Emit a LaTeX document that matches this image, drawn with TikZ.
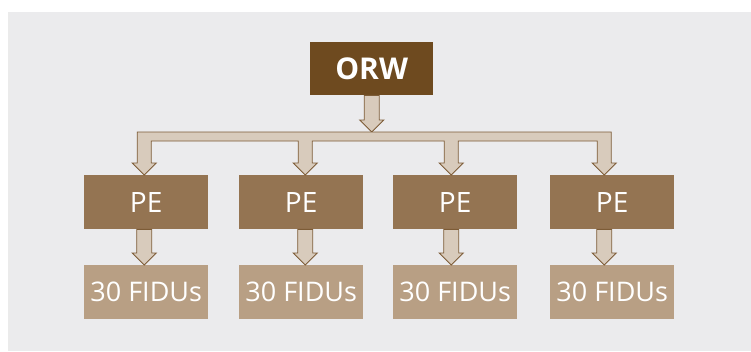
\documentclass[tikz,border=0pt]{standalone}
\usepackage{fontspec}
\setmainfont{Open Sans}
\usetikzlibrary{calc}
\definecolor{bgc}{HTML}{EBEBED}
\definecolor{orwc}{HTML}{6E4A1F}
\definecolor{pec}{HTML}{947452}
\definecolor{fdc}{HTML}{B89F84}
\definecolor{arf}{HTML}{D8CBBC}
\definecolor{arl}{HTML}{7D5C37}
\tikzset{
  box/.style={rectangle, inner sep=0pt, minimum width=124pt, minimum height=54pt, text=white, anchor=north west},
  orwbox/.style={box, fill=orwc, minimum width=123pt, minimum height=53pt, font=\fontsize{30}{30}\selectfont\bfseries},
  pebox/.style={box, fill=pec, font=\fontsize{28}{28}\selectfont},
  fdbox/.style={box, fill=fdc, font=\fontsize{27}{27}\selectfont},
  blockarrow/.style={fill=arf, draw=arl, line width=0.9pt, line join=miter},
  fat/.style={blockarrow, to path={let \p1=(\tikztostart), \p2=(\tikztotarget) in
    (\x1-7.5pt,\y1) -- (\x1-7.5pt,\y2+12pt) -- (\x1-12pt,\y2+12pt) -- (\x2,\y2) -- (\x1+12pt,\y2+12pt) -- (\x1+7.5pt,\y2+12pt) -- (\x1+7.5pt,\y1) -- cycle}}
}
\begin{document}
\begin{tikzpicture}[x=1pt,y=-1pt]
\useasboundingbox (0,0) rectangle (751,351);
\fill[white] (0,0) rectangle (751,351);
\fill[black!8] (8,12) rectangle (751,351);
\fill[bgc] (10,12) rectangle (751,351);

\node[orwbox] (orw) at (310,42) {ORW};

\node[pebox] (pe1) at (84,175) {PE};
\node[pebox] (pe2) at (239,175) {PE};
\node[pebox] (pe3) at (393,175) {PE};
\node[pebox] (pe4) at (550,175) {PE};

\node[fdbox] (fd1) at (84,265) {30 FIDUs};
\node[fdbox] (fd2) at (239,265) {30 FIDUs};
\node[fdbox] (fd3) at (393,265) {30 FIDUs};
\node[fdbox] (fd4) at (550,265) {30 FIDUs};

\coordinate (bar) at (orw.south |- 0,132);

% ORW down to the bar
\draw[fat] (orw.south) to (bar);

% bracket with four arrows
\draw[blockarrow] let \p0=(bar),
  \p1=([xshift=-2pt]pe1.north), \p2=([xshift=4pt]pe2.north),
  \p3=([xshift=-4pt]pe3.north), \p4=([xshift=-8pt]pe4.north) in
  (\x1-7pt,\y0) -- (\x4+7pt,\y0)
  -- (\x4+7pt,\y4+12pt) -- (\x4+12pt,\y4+12pt) -- (\x4,\y4) -- (\x4-12pt,\y4+12pt) -- (\x4-7pt,\y4+12pt)
  -- (\x4-7pt,\y0-9pt) -- (\x3+7pt,\y0-9pt)
  -- (\x3+7pt,\y3+12pt) -- (\x3+12pt,\y3+12pt) -- (\x3,\y3) -- (\x3-12pt,\y3+12pt) -- (\x3-7pt,\y3+12pt)
  -- (\x3-7pt,\y0-9pt) -- (\x2+7pt,\y0-9pt)
  -- (\x2+7pt,\y2+12pt) -- (\x2+12pt,\y2+12pt) -- (\x2,\y2) -- (\x2-12pt,\y2+12pt) -- (\x2-7pt,\y2+12pt)
  -- (\x2-7pt,\y0-9pt) -- (\x1+7pt,\y0-9pt)
  -- (\x1+7pt,\y1+12pt) -- (\x1+12pt,\y1+12pt) -- (\x1,\y1) -- (\x1-12pt,\y1+12pt) -- (\x1-7pt,\y1+12pt)
  -- cycle;

% PE to FIDUs
\draw[fat] ([xshift=-2pt]pe1.south) to ([xshift=-2pt]fd1.north);
\draw[fat] ([xshift=4pt]pe2.south) to ([xshift=4pt]fd2.north);
\draw[fat] ([xshift=-4pt]pe3.south) to ([xshift=-4pt]fd3.north);
\draw[fat] ([xshift=-8pt]pe4.south) to ([xshift=-8pt]fd4.north);
\end{tikzpicture}
\end{document}
